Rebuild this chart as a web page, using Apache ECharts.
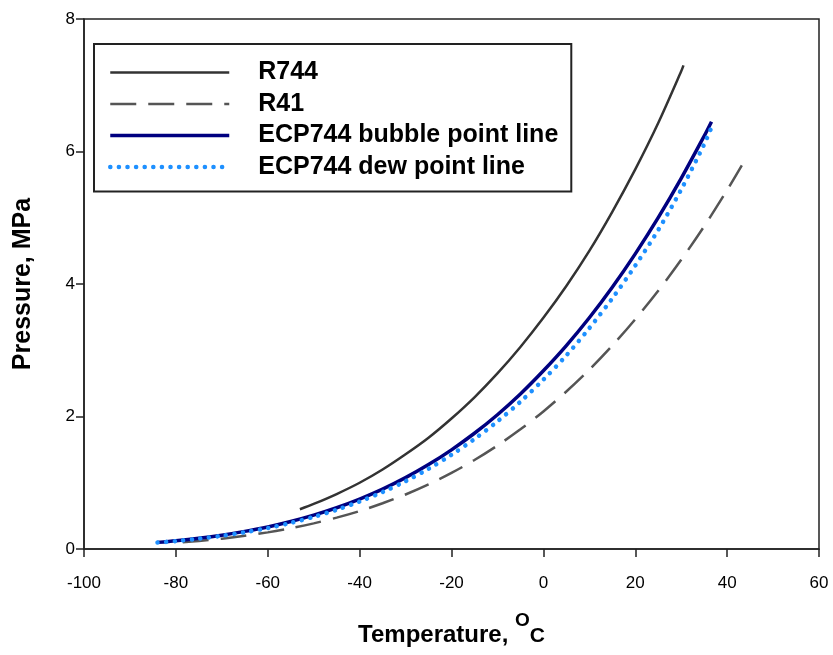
<!DOCTYPE html>
<html><head><meta charset="utf-8">
<script src="https://cdn.jsdelivr.net/npm/echarts@6/dist/echarts.min.js"></script>
<style>html,body{margin:0;padding:0;background:#fff}#c{width:833px;height:655px}</style>
</head><body><div id="c"></div>
<script>
var r744T = [-53, -50, -45, -40, -35, -30, -25, -20, -15, -10, -5, 0, 5, 10, 15, 20, 25, 30, 30.5];
var r744P = [0.60, 0.68, 0.83, 1.00, 1.20, 1.43, 1.68, 1.97, 2.29, 2.65, 3.05, 3.49, 3.97, 4.50, 5.09, 5.73, 6.43, 7.21, 7.30];

var r41T = [-78.5, -75, -70, -65, -60, -55, -50, -45, -40, -35, -30, -25, -20, -15, -10, -5, 0, 5, 10, 15, 20, 25, 30, 35, 40, 43.2];
var r41P = [0.100, 0.121, 0.156, 0.199, 0.251, 0.313, 0.387, 0.473, 0.572, 0.690, 0.823, 0.975, 1.149, 1.343, 1.562, 1.806, 2.076, 2.377, 2.707, 3.070, 3.468, 3.898, 4.366, 4.871, 5.417, 5.790];

var bubT = [-84, -80, -75, -70, -65, -60, -55, -50, -45, -40, -35, -30, -25, -20, -15, -10, -5, 0, 5, 10, 15, 20, 25, 30, 35, 36.6];
var bubP = [0.100, 0.125, 0.163, 0.209, 0.266, 0.333, 0.415, 0.511, 0.623, 0.754, 0.904, 1.077, 1.274, 1.497, 1.747, 2.027, 2.340, 2.690, 3.070, 3.490, 3.951, 4.455, 5.001, 5.594, 6.233, 6.450];

var dewT = [-84, -80, -75, -70, -65, -60, -55, -50, -45, -40, -35, -30, -25, -20, -15, -10, -5, 0, 5, 10, 15, 20, 25, 30, 35, 36.8];
var dewP = [0.097, 0.120, 0.155, 0.199, 0.253, 0.316, 0.394, 0.485, 0.592, 0.716, 0.859, 1.023, 1.210, 1.422, 1.660, 1.926, 2.223, 2.556, 2.922, 3.333, 3.783, 4.277, 4.815, 5.426, 6.108, 6.400];

var seriesNames = ['R744', 'R41', 'ECP744 bubble point line', 'ECP744 dew point line'];

function pairs(xs, ys) { return xs.map(function (x, i) { return [x, ys[i]]; }); }

var font = 'Liberation Sans, Arial, sans-serif';
var chart = echarts.init(document.getElementById('c'), null, { renderer: 'canvas' });
chart.setOption({
  animation: false,
  backgroundColor: '#fff',
  grid: { left: 84, right: 14, top: 19, bottom: 106, show: true, borderColor: '#222', borderWidth: 1.5 },
  legend: {
    orient: 'vertical', left: 94, top: 44,
    padding: [16, 13, 12, 14],
    borderColor: '#222', borderWidth: 2,
    itemWidth: 119, itemHeight: 14, itemGap: 6.5,
    itemStyle: { opacity: 0 },
    lineStyle: { width: 'inherit' },
    textStyle: { fontFamily: font, fontSize: 25, fontWeight: 'bold', color: '#000', padding: [0, 0, 0, 24], lineHeight: 25 },
    data: seriesNames
  },
  xAxis: {
    type: 'value', min: -100, max: 60, interval: 20,
    axisLine: { onZero: false, lineStyle: { color: '#222', width: 1.5 } },
    axisTick: { length: 8, lineStyle: { color: '#222', width: 1.5 } },
    splitLine: { show: false },
    axisLabel: { margin: 26, fontFamily: font, fontSize: 17, color: '#000' },
    name: '{a|Temperature, }{sup|O}{sub|C}',
    nameLocation: 'middle', nameGap: 62,
    nameTextStyle: {
      rich: {
        a: { fontFamily: font, fontSize: 24, fontWeight: 'bold', color: '#000', verticalAlign: 'bottom', lineHeight: 36 },
        sup: { fontFamily: font, fontSize: 19, fontWeight: 'bold', color: '#000', verticalAlign: 'top', lineHeight: 36 },
        sub: { fontFamily: font, fontSize: 21, fontWeight: 'bold', color: '#000', verticalAlign: 'bottom', lineHeight: 34 }
      }
    }
  },
  yAxis: {
    type: 'value', min: 0, max: 8, interval: 2,
    axisLine: { onZero: false, lineStyle: { color: '#222', width: 1.5 } },
    axisTick: { length: 8, lineStyle: { color: '#222', width: 1.5 } },
    splitLine: { show: false },
    axisLabel: { margin: 9, fontFamily: font, fontSize: 17, color: '#000' },
    name: 'Pressure, MPa', nameLocation: 'middle', nameGap: 48, nameRotate: 90,
    nameTextStyle: { fontFamily: font, fontSize: 25, fontWeight: 'bold', color: '#000' }
  },
  series: [
    { name: seriesNames[0], type: 'line', data: pairs(r744T, r744P), symbol: 'none', smooth: 0.3,
      lineStyle: { color: '#333', width: 2.5 }, itemStyle: { color: '#333' } },
    { name: seriesNames[1], type: 'line', data: pairs(r41T, r41P), symbol: 'none', smooth: 0.3,
      lineStyle: { color: '#555', width: 2.5, type: [26, 12] }, itemStyle: { color: '#555' } },
    { name: seriesNames[2], type: 'line', data: pairs(bubT, bubP), symbol: 'none', smooth: 0.3,
      lineStyle: { color: '#000080', width: 3.5 }, itemStyle: { color: '#000080' } },
    { name: seriesNames[3], type: 'line', data: pairs(dewT, dewP), symbol: 'none', smooth: 0.3,
      lineStyle: { color: '#1e90ff', width: 4.5, type: [0.1, 8.5], cap: 'round' }, itemStyle: { color: '#1e90ff' } }
  ]
});
</script></body></html>
